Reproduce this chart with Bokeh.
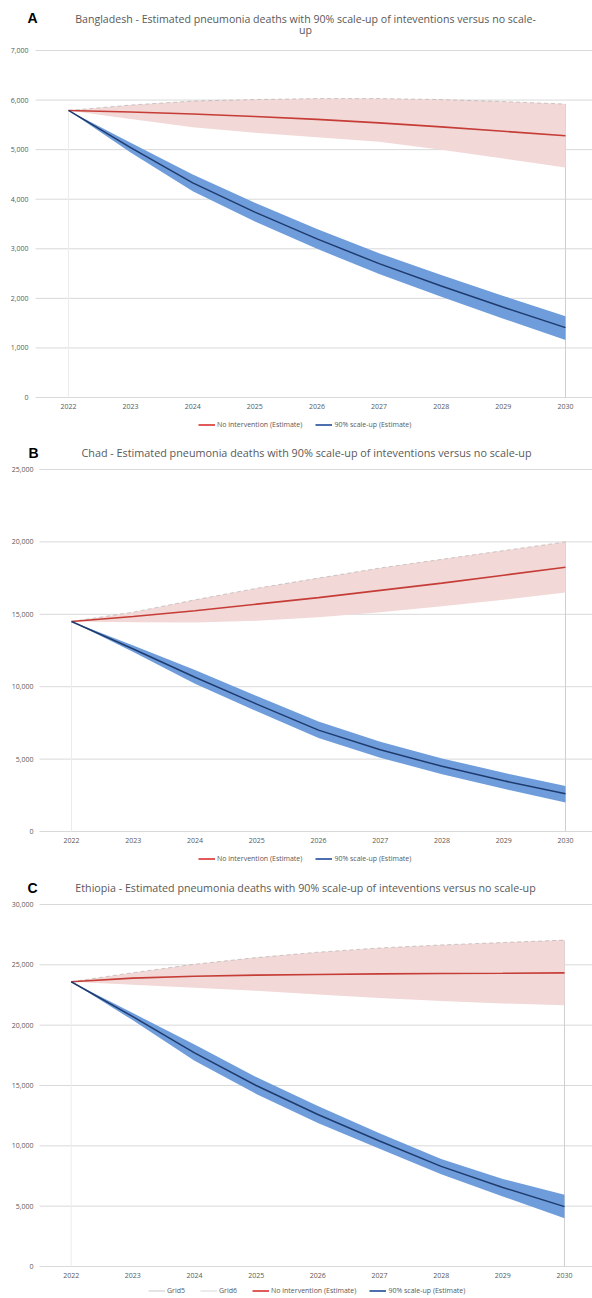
from bokeh.plotting import figure
from bokeh.models import Range1d, Label, Legend, LegendItem, FixedTicker
from bokeh.layouts import column
from bokeh.embed import file_html
from bokeh.resources import INLINE
from bokeh.core.properties import value

# ---------------- data ----------------
years = [2022, 2023, 2024, 2025, 2026, 2027, 2028, 2029, 2030]

# Bangladesh
bgd_none = [5790, 5760, 5720, 5670, 5610, 5540, 5460, 5370, 5280]
bgd_none_lo = [5790, 5620, 5450, 5340, 5250, 5160, 5000, 4820, 4640]
bgd_none_hi = [5790, 5900, 5980, 6010, 6030, 6030, 6010, 5970, 5920]
bgd_scale = [5790, 5040, 4330, 3740, 3200, 2700, 2250, 1820, 1410]
bgd_scale_lo = [5790, 4940, 4160, 3550, 3000, 2490, 2030, 1590, 1160]
bgd_scale_hi = [5790, 5140, 4500, 3930, 3400, 2910, 2470, 2050, 1640]
bgd_yticks = [0, 1000, 2000, 3000, 4000, 5000, 6000, 7000]

# Chad
tcd_none = [14500, 14850, 15250, 15700, 16150, 16650, 17150, 17700, 18250]
tcd_none_lo = [14500, 14450, 14430, 14550, 14800, 15150, 15550, 16000, 16500]
tcd_none_hi = [14500, 15150, 16000, 16800, 17500, 18200, 18800, 19400, 20000]
tcd_scale = [14500, 12600, 10650, 8800, 7000, 5650, 4500, 3500, 2600]
tcd_scale_lo = [14500, 12400, 10200, 8300, 6450, 5100, 3950, 2950, 2000]
tcd_scale_hi = [14500, 12850, 11150, 9350, 7600, 6200, 5050, 4050, 3150]
tcd_yticks = [0, 5000, 10000, 15000, 20000, 25000]

# Ethiopia
eth_none = [23600, 23900, 24050, 24150, 24200, 24250, 24280, 24300, 24330]
eth_none_lo = [23600, 23350, 23100, 22850, 22550, 22250, 22000, 21800, 21650]
eth_none_hi = [23600, 24350, 25050, 25600, 26050, 26400, 26650, 26850, 27050]
eth_scale = [23600, 20700, 17700, 15000, 12600, 10400, 8300, 6550, 4960]
eth_scale_lo = [23600, 20400, 17050, 14300, 11900, 9750, 7650, 5800, 4000]
eth_scale_hi = [23600, 21000, 18400, 15700, 13300, 11050, 8900, 7250, 5950]
eth_yticks = [0, 5000, 10000, 15000, 20000, 25000, 30000]

title_a = ["Bangladesh - Estimated pneumonia deaths with 90% scale-up of inteventions versus no scale-", "up"]
title_b = ["Chad - Estimated pneumonia deaths with 90% scale-up of inteventions versus no scale-up"]
title_c = ["Ethiopia - Estimated pneumonia deaths with 90% scale-up of inteventions versus no scale-up"]
label_none = "No intervention (Estimate)"
label_scale = "90% scale-up (Estimate)"
grid_labels = ["Grid5", "Grid6"]

FONT = "Open Sans"
TXT = "#595959"
RED = "#C63D37"
NAVY = "#1F3B6E"
PINK = "#F2D8D6"
BLUE = "#6F9DDB"
GRID = "#D9D9D9"
W = 592
AXIS_H = 12


def blank(height):
    f = figure(width=W, height=height, output_backend="svg", toolbar_location=None,
               x_range=Range1d(0, W), y_range=Range1d(0, height),
               x_axis_location=None, y_axis_location=None,
               min_border_left=0, min_border_right=0, min_border_top=0, min_border_bottom=0,
               background_fill_color="white", border_fill_color="white")
    f.outline_line_color = None
    f.xgrid.visible = False
    f.ygrid.visible = False
    return f


def header(height, letter, lines, size, letter_xy, title_x, title_ys):
    h = blank(height)
    h.add_layout(Label(x=letter_xy[0], y=letter_xy[1], text=letter,
                       text_font="Liberation Sans", text_font_style="bold",
                       text_font_size="14px", text_color="black", text_align="center",
                       text_baseline="middle"))
    for line, ty in zip(lines, title_ys):
        h.add_layout(Label(x=title_x, y=ty, text=line, text_font=FONT, text_font_size=size,
                           text_color=TXT, text_align="center", text_baseline="middle"))
    return h


def legend_fig(height, loc, mid, s_mid, with_grid):
    # the series are drawn far outside this strip's view; only their legend glyphs show
    g = blank(height)
    items = []
    if with_grid:
        g5 = g.line(years, mid, line_color="#D3D3D3", line_width=1.2)
        g6 = g.line(years, mid, line_color="#DEDEDE", line_width=1.2)
        items += [LegendItem(label=grid_labels[0], renderers=[g5]),
                  LegendItem(label=grid_labels[1], renderers=[g6])]
    lr = g.line(years, mid, line_color="#E05A5A", line_width=2)
    lb = g.line(years, s_mid, line_color="#4E6FAE", line_width=2)
    items += [LegendItem(label=label_none, renderers=[lr]),
              LegendItem(label=label_scale, renderers=[lb])]
    leg = Legend(items=items, orientation="horizontal", location=loc,
                 label_text_font=FONT, label_text_font_size="7px", label_text_color=TXT,
                 glyph_width=17, glyph_height=9, label_height=9, label_standoff=2,
                 spacing=13, padding=0, margin=0, border_line_color=None,
                 background_fill_alpha=0)
    g.add_layout(leg)
    return g


def chart(mid, lo, hi, s_mid, s_lo, s_hi, yticks, data_px, pad_top, pad_bot, ppy, px2022,
          grid_px, label_px):
    x_start = years[0] - px2022 / ppy
    x_end = x_start + W / ppy
    ppu = data_px / yticks[-1]
    frame_h = pad_top + data_px + pad_bot
    p = figure(width=W, height=frame_h + AXIS_H, output_backend="svg", toolbar_location=None,
               x_range=Range1d(x_start, x_end),
               y_range=Range1d(yticks[0] - pad_bot / ppu, yticks[-1] + pad_top / ppu),
               y_axis_location=None,
               min_border_left=0, min_border_right=0, min_border_top=0,
               min_border_bottom=AXIS_H, background_fill_color="white",
               border_fill_color="white")
    p.outline_line_color = None
    p.xgrid.visible = False
    p.ygrid.visible = False

    p.xaxis.ticker = FixedTicker(ticks=years)
    p.xaxis.axis_line_color = None
    p.xaxis.major_tick_line_color = None
    p.xaxis.minor_tick_line_color = None
    p.xaxis.major_tick_out = 0
    p.xaxis.major_tick_in = 0
    p.xaxis.major_label_text_font = FONT
    p.xaxis.major_label_text_font_size = "7px"
    p.xaxis.major_label_text_color = TXT
    p.xaxis.major_label_standoff = 0

    n = len(yticks)
    gx0 = x_start + grid_px / ppy
    # horizontal gridlines and value labels
    p.segment(x0=[gx0] * n, y0=yticks, x1=[x_end] * n, y1=yticks,
              line_color=GRID, line_width=1)
    p.text(x=[x_start + label_px / ppy] * n, y=yticks, text=[f"{v:,}" for v in yticks],
           text_font=value(FONT), text_font_size=value("7px"), text_color=TXT,
           text_align="right", text_baseline="middle")

    # vertical guide lines (Grid5 / Grid6)
    p.segment(x0=[years[0]], y0=[yticks[0]], x1=[years[0]], y1=[mid[0]],
              line_color="#ECECEC", line_width=1)
    p.segment(x0=[years[-1]], y0=[yticks[0]], x1=[years[-1]], y1=[hi[-1]],
              line_color="#CFCFCF", line_width=1)

    # uncertainty bands
    p.varea(x=years, y1=lo, y2=hi, fill_color=PINK)
    p.line(years, hi, line_color="#9A9A9A", line_alpha=0.6, line_width=0.8, line_dash="4 3")
    p.varea(x=years, y1=s_lo, y2=s_hi, fill_color=BLUE)

    # central estimates
    p.line(years, mid, line_color=RED, line_width=1.6)
    p.line(years, s_mid, line_color=NAVY, line_width=1.5)
    return p


# ---- panel A ----
hA = header(43, "A", title_a, "10.6px", (32, 26), 305, [25, 14])
cA = chart(bgd_none, bgd_none_lo, bgd_none_hi, bgd_scale, bgd_scale_lo, bgd_scale_hi,
           bgd_yticks, 347, 7, 6, 62.125, 68, 35, 28)
lA = legend_fig(20, (198, 6), bgd_none, bgd_scale, False)

# ---- panel B ----
hB = header(26, "B", title_b, "10.8px", (33, 9), 306, [9])
cB = chart(tcd_none, tcd_none_lo, tcd_none_hi, tcd_scale, tcd_scale_lo, tcd_scale_hi,
           tcd_yticks, 362, 8, 6, 61.75, 71, 39, 33)
lB = legend_fig(18, (198, 4), tcd_none, tcd_scale, False)

# ---- panel C ----
hC = header(30, "C", title_c, "10.7px", (32, 10), 305, [10])
cC = chart(eth_none, eth_none_lo, eth_none_hi, eth_scale, eth_scale_lo, eth_scale_hi,
           eth_yticks, 362, 7, 6, 61.66, 70.7, 39, 33)
lC = legend_fig(12, (148, 1), eth_none, eth_scale, True)

layout = column(hA, cA, lA, hB, cB, lB, hC, cC, lC, spacing=0)
open("out.html", "w").write(file_html(layout, INLINE))
